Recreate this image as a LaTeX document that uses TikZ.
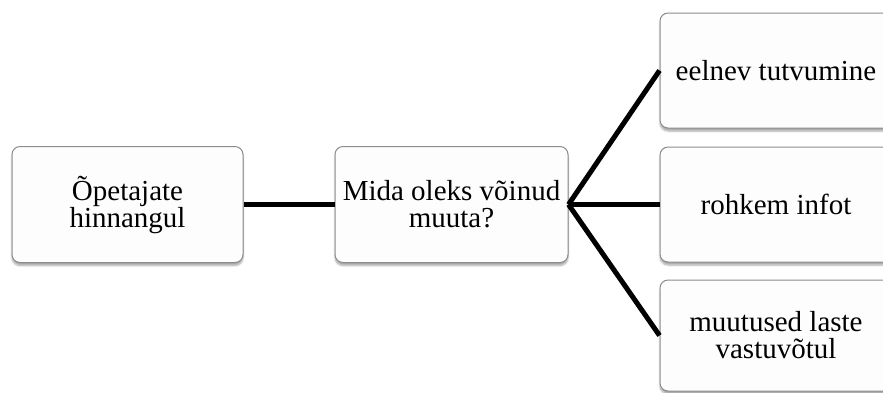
\documentclass[tikz,border=0pt]{standalone}
\usepackage{fontspec}
\setmainfont{Liberation Serif}
\usetikzlibrary{shadows.blur}
\definecolor{boxline}{HTML}{8C8C8C}
\definecolor{boxfill}{HTML}{FDFDFD}
\tikzset{
  card/.style={draw=boxline, line width=1pt, fill=boxfill, rounded corners=8pt,
    align=center, inner sep=0pt, font=\fontsize{29}{27}\selectfont,
    blur shadow={shadow xshift=0pt, shadow yshift=-3pt, shadow blur steps=6, shadow opacity=35}},
  link/.style={line width=5pt, black}
}
\begin{document}
\begin{tikzpicture}[x=1pt,y=-1pt]
\useasboundingbox (0,0) rectangle (883,392);
\clip (0,0) rectangle (883,392);
\node[card, minimum width=231pt, minimum height=116pt] (a) at (127.5,204.5) {Õpetajate\\hinnangul};
\node[card, minimum width=233pt, minimum height=116pt] (b) at (451.5,204.5) {Mida oleks võinud\\muuta?};
\node[card, minimum width=232pt, minimum height=115pt] (c1) at (776,70.5) {eelnev tutvumine};
\node[card, minimum width=232pt, minimum height=115pt] (c2) at (776,204.5) {rohkem infot};
\node[card, minimum width=232pt, minimum height=111pt] (c3) at (776,335.5) {muutused laste\\vastuvõtul};
\draw[link] (a.east) -- (b.west);
\draw[link] (b.east) -- (c1.west);
\draw[link] (b.east) -- (c2.west);
\draw[link] (b.east) -- (c3.west);
\end{tikzpicture}
\end{document}
